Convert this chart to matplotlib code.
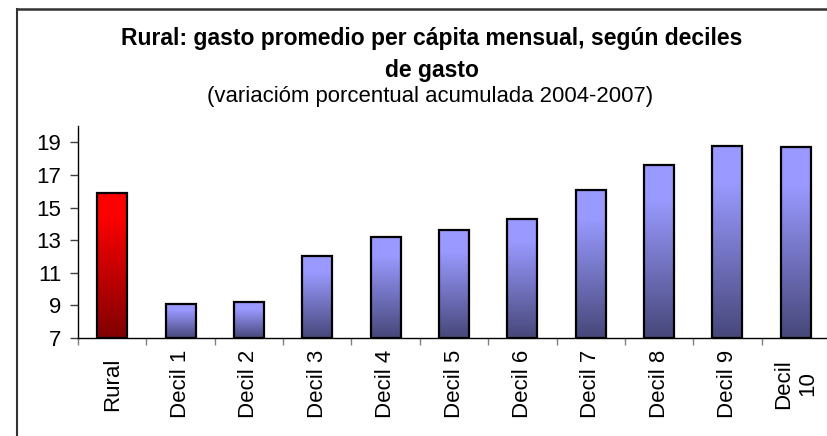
import numpy as np
import matplotlib
matplotlib.use("Agg")
import matplotlib.pyplot as plt
from matplotlib.lines import Line2D
from matplotlib.colors import LinearSegmentedColormap

categories = ["Rural", "Decil 1", "Decil 2", "Decil 3", "Decil 4", "Decil 5",
              "Decil 6", "Decil 7", "Decil 8", "Decil 9", "Decil\n10"]
values = [15.9, 9.1, 9.2, 12.0, 13.2, 13.6, 14.3, 16.1, 17.6, 18.8, 18.7]
yticks = [7, 9, 11, 13, 15, 17, 19]
title = "Rural: gasto promedio per cápita mensual, según deciles\nde gasto"
subtitle = "(variacióm porcentual acumulada 2004-2007)"

plt.rcParams['font.family'] = ['Liberation Sans', 'DejaVu Sans']

W, H = 828, 436
fig = plt.figure(figsize=(W / 100, H / 100), dpi=100)
ax = fig.add_axes([78 / W, (H - 338) / H, 752 / W, 212 / H])

ymin, ymax = 7, 20
bw = 0.44
red_cmap = LinearSegmentedColormap.from_list("r", [(0, "#800000"), (0.85, "#FF0000"), (1, "#FF0000")])
blue_cmap = LinearSegmentedColormap.from_list("b", [(0, "#47477A"), (0.8, "#9999FF"), (1, "#9999FF")])
grad = np.linspace(0, 1, 256).reshape(-1, 1)

x = np.arange(len(categories)) + 0.5
for i, (xi, v) in enumerate(zip(x, values)):
    cmap = red_cmap if i == 0 else blue_cmap
    ax.imshow(grad, cmap=cmap, origin="lower", aspect="auto",
              extent=(xi - bw / 2, xi + bw / 2, ymin, v), zorder=2, interpolation="bilinear")
    ax.bar(xi, v - ymin, bottom=ymin, width=bw, facecolor="none",
           edgecolor="black", linewidth=1.6, zorder=3)

ax.set_xlim(0, len(categories))
ax.set_ylim(ymin, ymax)
ax.set_yticks(yticks)
ax.set_yticklabels([str(t) for t in yticks], fontsize=16)
ax.tick_params(axis="y", direction="out", length=6, width=1, color="#404040", pad=6)

ax.set_xticks(x)
ax.set_xticklabels(categories, rotation=90, fontsize=16, va="center", ha="center",
                   linespacing=1.2)
ax.set_xticks(np.arange(len(categories) + 1), minor=True)
ax.tick_params(axis="x", which="major", length=0, pad=33)
ax.tick_params(axis="x", which="minor", direction="out", length=5, width=1, color="#808080")

for s in ["top", "right"]:
    ax.spines[s].set_visible(False)
ax.spines["left"].set_color("black")
ax.spines["bottom"].set_color("black")
ax.spines["left"].set_linewidth(1)
ax.spines["bottom"].set_linewidth(1)

fig.text(432 / W, 1 - 27 / H, title, ha="center", va="top", fontsize=16.5,
         fontweight="bold", linespacing=1.5)
fig.text(430 / W, 1 - 86 / H, subtitle, ha="center", va="top", fontsize=15.9)

# outer frame (left and top edges visible)
fig.add_artist(Line2D([17.5 / W, 17.5 / W], [0, 1 - 9 / H], color="#333333", lw=1.5,
                      transform=fig.transFigure))
fig.add_artist(Line2D([17.5 / W, 1], [1 - 9 / H, 1 - 9 / H], color="#333333", lw=1.8,
                      transform=fig.transFigure))

fig.savefig("out.png", dpi=100)
